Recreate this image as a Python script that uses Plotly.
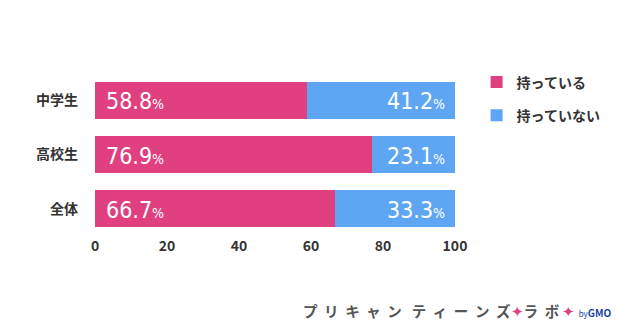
import plotly.graph_objects as go

categories = ["中学生", "高校生", "全体"]
have = [58.8, 76.9, 66.7]
have_not = [41.2, 23.1, 33.3]
series_names = ["持っている", "持っていない"]
colors = ["#E0407F", "#5EA6F4"]
x_ticks = [0, 20, 40, 60, 80, 100]

def label(v):
    return f"{v:.1f}<span style='font-size:14px'>%</span>"

fig = go.Figure()
fig.add_trace(go.Bar(
    y=categories, x=have, orientation="h", name=series_names[0],
    marker=dict(color=colors[0], line=dict(width=0)),
    legendgroup="a", hoverinfo="skip",
))
fig.add_trace(go.Bar(
    y=categories, x=have_not, orientation="h", name=series_names[1],
    marker=dict(color=colors[1], line=dict(width=0)),
    legendgroup="b", hoverinfo="skip",
))

lblfont = dict(family="Liberation Sans Narrow, DejaVu Sans Condensed, Liberation Sans",
               size=23, color="white")
for c, a, b in zip(categories, have, have_not):
    fig.add_annotation(x=0, y=c, xref="x", yref="y", text=label(a), showarrow=False,
                       xanchor="left", xshift=9, yshift=-1, font=lblfont)
    fig.add_annotation(x=a + b, y=c, xref="x", yref="y", text=label(b), showarrow=False,
                       xanchor="right", xshift=-8, yshift=-1, font=lblfont)

fig.update_layout(
    width=640, height=333,
    barmode="stack", bargap=0.32,
    margin=dict(l=95, r=185, t=73, b=97),
    paper_bgcolor="white", plot_bgcolor="white",
    font=dict(family="Noto Sans CJK JP", color="#333333", size=13),
    showlegend=True,
    legend=dict(x=1.06, y=1.04, xanchor="left", yanchor="top",
                font=dict(size=14, color="#333333", family="Noto Sans CJK JP",
                          weight="bold"),
                tracegroupgap=12, traceorder="grouped",
                bgcolor="rgba(0,0,0,0)"),
)
fig.update_xaxes(range=[0, 100], tickvals=x_ticks, showgrid=False, zeroline=False,
                 showline=False, ticks="", tickfont=dict(size=14, color="#333333",
                 family="Noto Sans CJK JP", weight="bold"), fixedrange=True)
fig.update_yaxes(autorange="reversed", showgrid=False, showline=False, ticks="",
                 ticklabelstandoff=16, tickfont=dict(size=14, color="#333333",
                 family="Noto Sans CJK JP", weight="bold"), fixedrange=True)

fig.add_annotation(
    xref="paper", yref="paper", x=1.44, y=-0.46, xanchor="right", yanchor="middle",
    showarrow=False,
    text=("<b>プ  リ  キ  ャ  ン   テ  ィ  ー  ン  ズ</b><span style='color:#E0407F'>✦</span>"
          "<b>ラ  ボ</b> <span style='color:#E0407F'>✦</span> "
          "<span style='font-size:8px;color:#1a3fa0'>by</span>"
          "<b><span style='font-size:10px;color:#1a3fa0'>GMO</span></b>"),
    font=dict(size=14.5, color="#555555", family="Noto Sans CJK JP"),
)

fig.write_html("out.html")
